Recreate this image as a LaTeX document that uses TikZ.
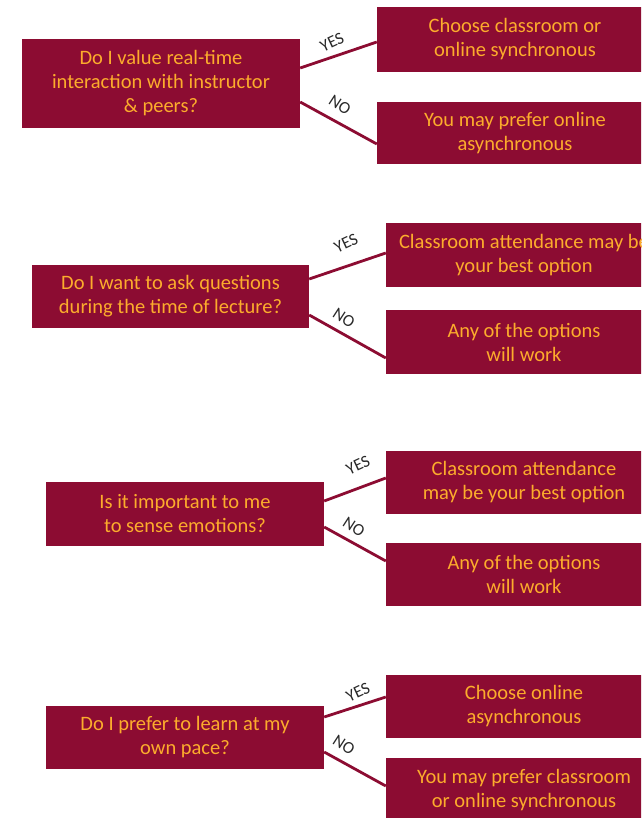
\documentclass[tikz,border=0pt]{standalone}
\usepackage{fontspec}
\setmainfont{Carlito}
\definecolor{maroon}{RGB}{140,12,50}
\definecolor{gold}{RGB}{252,172,44}
\definecolor{lbl}{RGB}{40,40,40}
\begin{document}
\begin{tikzpicture}[x=1pt,y=-1pt,
  qbox/.style={fill=maroon, draw=none, text=gold, align=center, inner sep=0pt,
    minimum width=278pt, font=\fontsize{20.5}{24}\selectfont},
  abox/.style={qbox, minimum width=276pt},
  link/.style={draw=maroon, line width=2.8pt},
  yn/.style={text=lbl, font=\fontsize{17}{18}\selectfont, inner sep=0pt}]
\useasboundingbox (0,0) rectangle (641,818);
\clip (0,0) rectangle (641,818);
% group 1
\node[qbox, minimum height=89pt] (q1) at (161,83.5) {Do I value real-time\\interaction with instructor\\\& peers?};
\node[abox, minimum height=65pt] (a1y) at (515,39.5) {Choose classroom or\\online synchronous};
\node[abox, minimum height=62pt] (a1n) at (515,133) {You may prefer online\\asynchronous};
\draw[link] ([yshift=15.5pt]q1.east) -- ([yshift=-2.5pt]a1y.west);
\draw[link] ([yshift=-18.5pt]q1.east) -- ([yshift=-11pt]a1n.west);
\node[yn, rotate=25] (y1) at (332,42) {YES};
\node[yn, rotate=-33] (n1) at (340,105) {NO};
% group 2
\node[qbox, minimum width=277pt, minimum height=63pt] (q2) at (170.5,296.5) {Do I want to ask questions\\during the time of lecture?};
\node[abox, minimum height=64pt] (a2y) at (524,255) {Classroom attendance may be\\your best option};
\node[abox, minimum height=64pt] (a2n) at (524,342) {Any of the options\\will work};
\draw[link] ([yshift=17.5pt]q2.east) -- ([yshift=2pt]a2y.west);
\draw[link] ([yshift=-18.5pt]q2.east) -- ([yshift=-16pt]a2n.west);
\node[yn, rotate=25] (y2) at (346,243) {YES};
\node[yn, rotate=-33] (n2) at (344,318) {NO};
% group 3
\node[qbox, minimum height=64pt] (q3) at (185,514) {Is it important to me\\to sense emotions?};
\node[abox, minimum height=63pt] (a3y) at (524,482.5) {Classroom attendance\\may be your best option};
\node[abox, minimum height=63pt] (a3n) at (524,574.5) {Any of the options\\will work};
\draw[link] ([yshift=13pt]q3.east) -- ([yshift=4.5pt]a3y.west);
\draw[link] ([yshift=-13pt]q3.east) -- ([yshift=13.5pt]a3n.west);
\node[yn, rotate=25] (y3) at (358,465) {YES};
\node[yn, rotate=-33] (n3) at (354,527) {NO};
% group 4
\node[qbox, minimum height=63pt] (q4) at (185,737.5) {Do I prefer to learn at my\\own pace?};
\node[abox, minimum height=63pt] (a4y) at (524,706.5) {Choose online\\asynchronous};
\node[abox, minimum height=64pt] (a4n) at (524,790) {You may prefer classroom\\or online synchronous};
\draw[link] ([yshift=20.5pt]q4.east) -- ([yshift=9.5pt]a4y.west);
\draw[link] ([yshift=-14.5pt]q4.east) -- ([yshift=4pt]a4n.west);
\node[yn, rotate=25] (y4) at (358,692) {YES};
\node[yn, rotate=-33] (n4) at (344,745) {NO};
\end{tikzpicture}
\end{document}
